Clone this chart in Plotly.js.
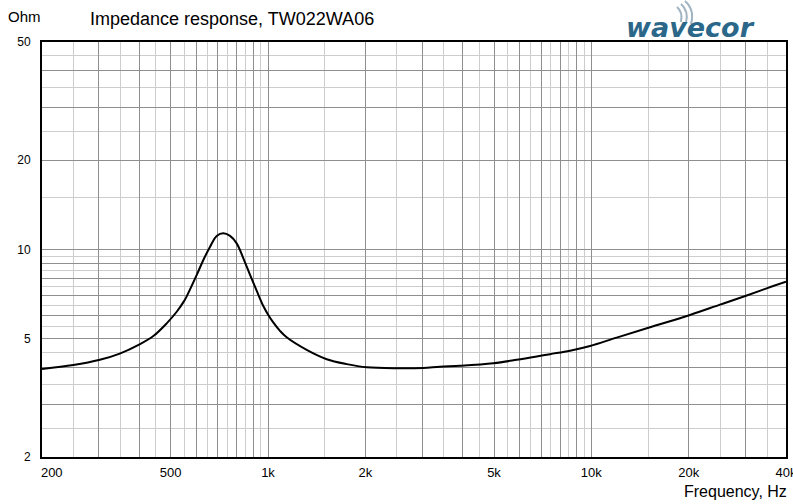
<!DOCTYPE html>
<html>
<head>
<meta charset="utf-8">
<script src="https://cdn.plot.ly/plotly-3.0.1.min.js"></script>
<style>html,body{margin:0;padding:0;background:#fff;}#chart{width:793px;height:504px;}</style>
</head>
<body>
<div id="chart"></div>
<script>
// ---- data ----
const freqHz = [200, 250, 302, 348, 402, 442, 486, 522, 550, 560, 602, 631, 662, 694, 727, 763, 800, 839, 880, 923, 967, 1002, 1038, 1089, 1142, 1317, 1519, 1752, 2020, 2500, 3020, 3400, 3930, 4976, 5878, 6780, 7452, 8593, 9908, 11980, 15190, 20200, 25000, 30250, 34860, 40000];
const impedanceOhm = [3.96, 4.08, 4.25, 4.46, 4.80, 5.11, 5.64, 6.17, 6.70, 6.94, 8.21, 9.22, 10.22, 11.11, 11.34, 11.11, 10.49, 9.34, 8.21, 7.25, 6.45, 6.02, 5.68, 5.32, 5.06, 4.59, 4.27, 4.11, 4.01, 3.98, 3.99, 4.03, 4.06, 4.14, 4.25, 4.36, 4.44, 4.56, 4.73, 5.05, 5.47, 6.02, 6.52, 7.00, 7.40, 7.79];

const xTickVals = [200, 500, 1000, 2000, 5000, 10000, 20000, 40000];
const xTickText = ['\u2003\u2002200', '500', '1k', '2k', '5k', '10k', '20k', '40k'];
const yTickVals = [2, 5, 10, 20, 50];
const yTickText = ['2', '5', '10', '20', '50'];

// ---- grid line positions (axis decoration) ----
function range(a, b, s) { const r = []; for (let v = a; v <= b + 1e-9; v += s) r.push(+v.toFixed(4)); return r; }
const xMajorGrid = [200].concat(range(300, 1000, 100), range(2000, 10000, 1000), [20000, 30000, 40000]);
const xMinorGrid = [].concat(range(250, 950, 100), [1500], range(2500, 9500, 1000), [15000, 25000, 35000]);
const yMajorGrid = [].concat(range(2, 10, 1), [20, 30, 40, 50]);
const yMinorGrid = [].concat(range(2.5, 9.5, 1), [15, 25, 35, 45]);

function labelsFor(vals, tv, tt) {
  return vals.map(v => { const i = tv.indexOf(v); return i >= 0 ? tt[i] : ''; });
}
const xAllTicks = Array.from(new Set(xMajorGrid.concat(xTickVals))).sort((a, b) => a - b);
const yAllTicks = Array.from(new Set(yMajorGrid.concat(yTickVals))).sort((a, b) => a - b);

// pixel -> paper helpers for decorations
const L = 42, R = 786, T = 42, B = 457;
const px = x => (x - L) / (R - L);
const py = y => (B - y) / (B - T);

const DARK = '#8f8f8f', LIGHT = '#cdcdcd';
const FONT = 'Liberation Sans, Arial, sans-serif';

const trace = {
  x: freqHz, y: impedanceOhm, type: 'scatter', mode: 'lines',
  line: { color: '#000', width: 2, shape: 'spline', smoothing: 1 },
  hoverinfo: 'skip'
};

const wave = (x0, y0, cx, cy, x1, y1) => ({
  type: 'path', xref: 'paper', yref: 'paper',
  path: `M ${px(x0)} ${py(y0)} Q ${px(cx)} ${py(cy)} ${px(x1)} ${py(y1)}`,
  line: { color: '#9fb3c2', width: 2 }
});

const layout = {
  width: 793, height: 504,
  margin: { l: L, r: 793 - R, t: T, b: 504 - B },
  paper_bgcolor: '#fff', plot_bgcolor: '#fff',
  showlegend: false,
  title: {
    text: 'Impedance response, TW022WA06',
    font: { family: FONT, size: 18, color: '#000' },
    xref: 'paper', x: px(90), xanchor: 'left',
    yref: 'container', y: 1 - 19 / 504, yanchor: 'middle'
  },
  xaxis: {
    type: 'log', range: [Math.log10(200), Math.log10(40000)],
    tickmode: 'array', tickvals: xAllTicks, ticktext: labelsFor(xAllTicks, xTickVals, xTickText),
    ticks: 'outside', ticklen: 2, tickcolor: 'rgba(0,0,0,0)',
    ticklabeloverflow: 'allow',
    tickfont: { family: FONT, size: 13, color: '#000' },
    showgrid: true, gridcolor: DARK, gridwidth: 1,
    minor: { tickmode: 'array', tickvals: xMinorGrid, showgrid: true, gridcolor: LIGHT, gridwidth: 1, ticks: '' },
    showline: true, linecolor: '#000', linewidth: 2, mirror: true,
    zeroline: false, fixedrange: true
  },
  yaxis: {
    type: 'log', range: [Math.log10(2), Math.log10(50)],
    tickmode: 'array', tickvals: yAllTicks, ticktext: labelsFor(yAllTicks, yTickVals, yTickText),
    ticks: 'outside', ticklen: 7, tickcolor: 'rgba(0,0,0,0)',
    ticklabeloverflow: 'allow',
    tickfont: { family: FONT, size: 12, color: '#000' },
    showgrid: true, gridcolor: DARK, gridwidth: 1,
    minor: { tickmode: 'array', tickvals: yMinorGrid, showgrid: true, gridcolor: LIGHT, gridwidth: 1, ticks: '' },
    showline: true, linecolor: '#000', linewidth: 2, mirror: true,
    zeroline: false, fixedrange: true
  },
  annotations: [
    { text: 'Ohm', xref: 'paper', yref: 'paper', x: px(6), y: py(16), xanchor: 'left', yanchor: 'middle',
      showarrow: false, font: { family: FONT, size: 15, color: '#000' } },
    { text: 'Frequency, Hz', xref: 'paper', yref: 'paper', x: px(789), y: py(491), xanchor: 'right', yanchor: 'middle',
      showarrow: false, font: { family: FONT, size: 16, color: '#000' } },
    { text: '<b><i>wavecor</i></b>', xref: 'paper', yref: 'paper', x: px(690), y: py(27), xanchor: 'center', yanchor: 'middle',
      showarrow: false, font: { family: 'DejaVu Sans, sans-serif', size: 27, color: '#2a6788' } }
  ],
  shapes: [
    wave(677, 7, 683, 12, 681, 22),
    wave(681, 4, 689, 11, 686, 23),
    wave(685, 1, 695, 10, 691, 24)
  ]
};

Plotly.newPlot('chart', [trace], layout, { displayModeBar: false, staticPlot: true });
</script>
</body>
</html>
